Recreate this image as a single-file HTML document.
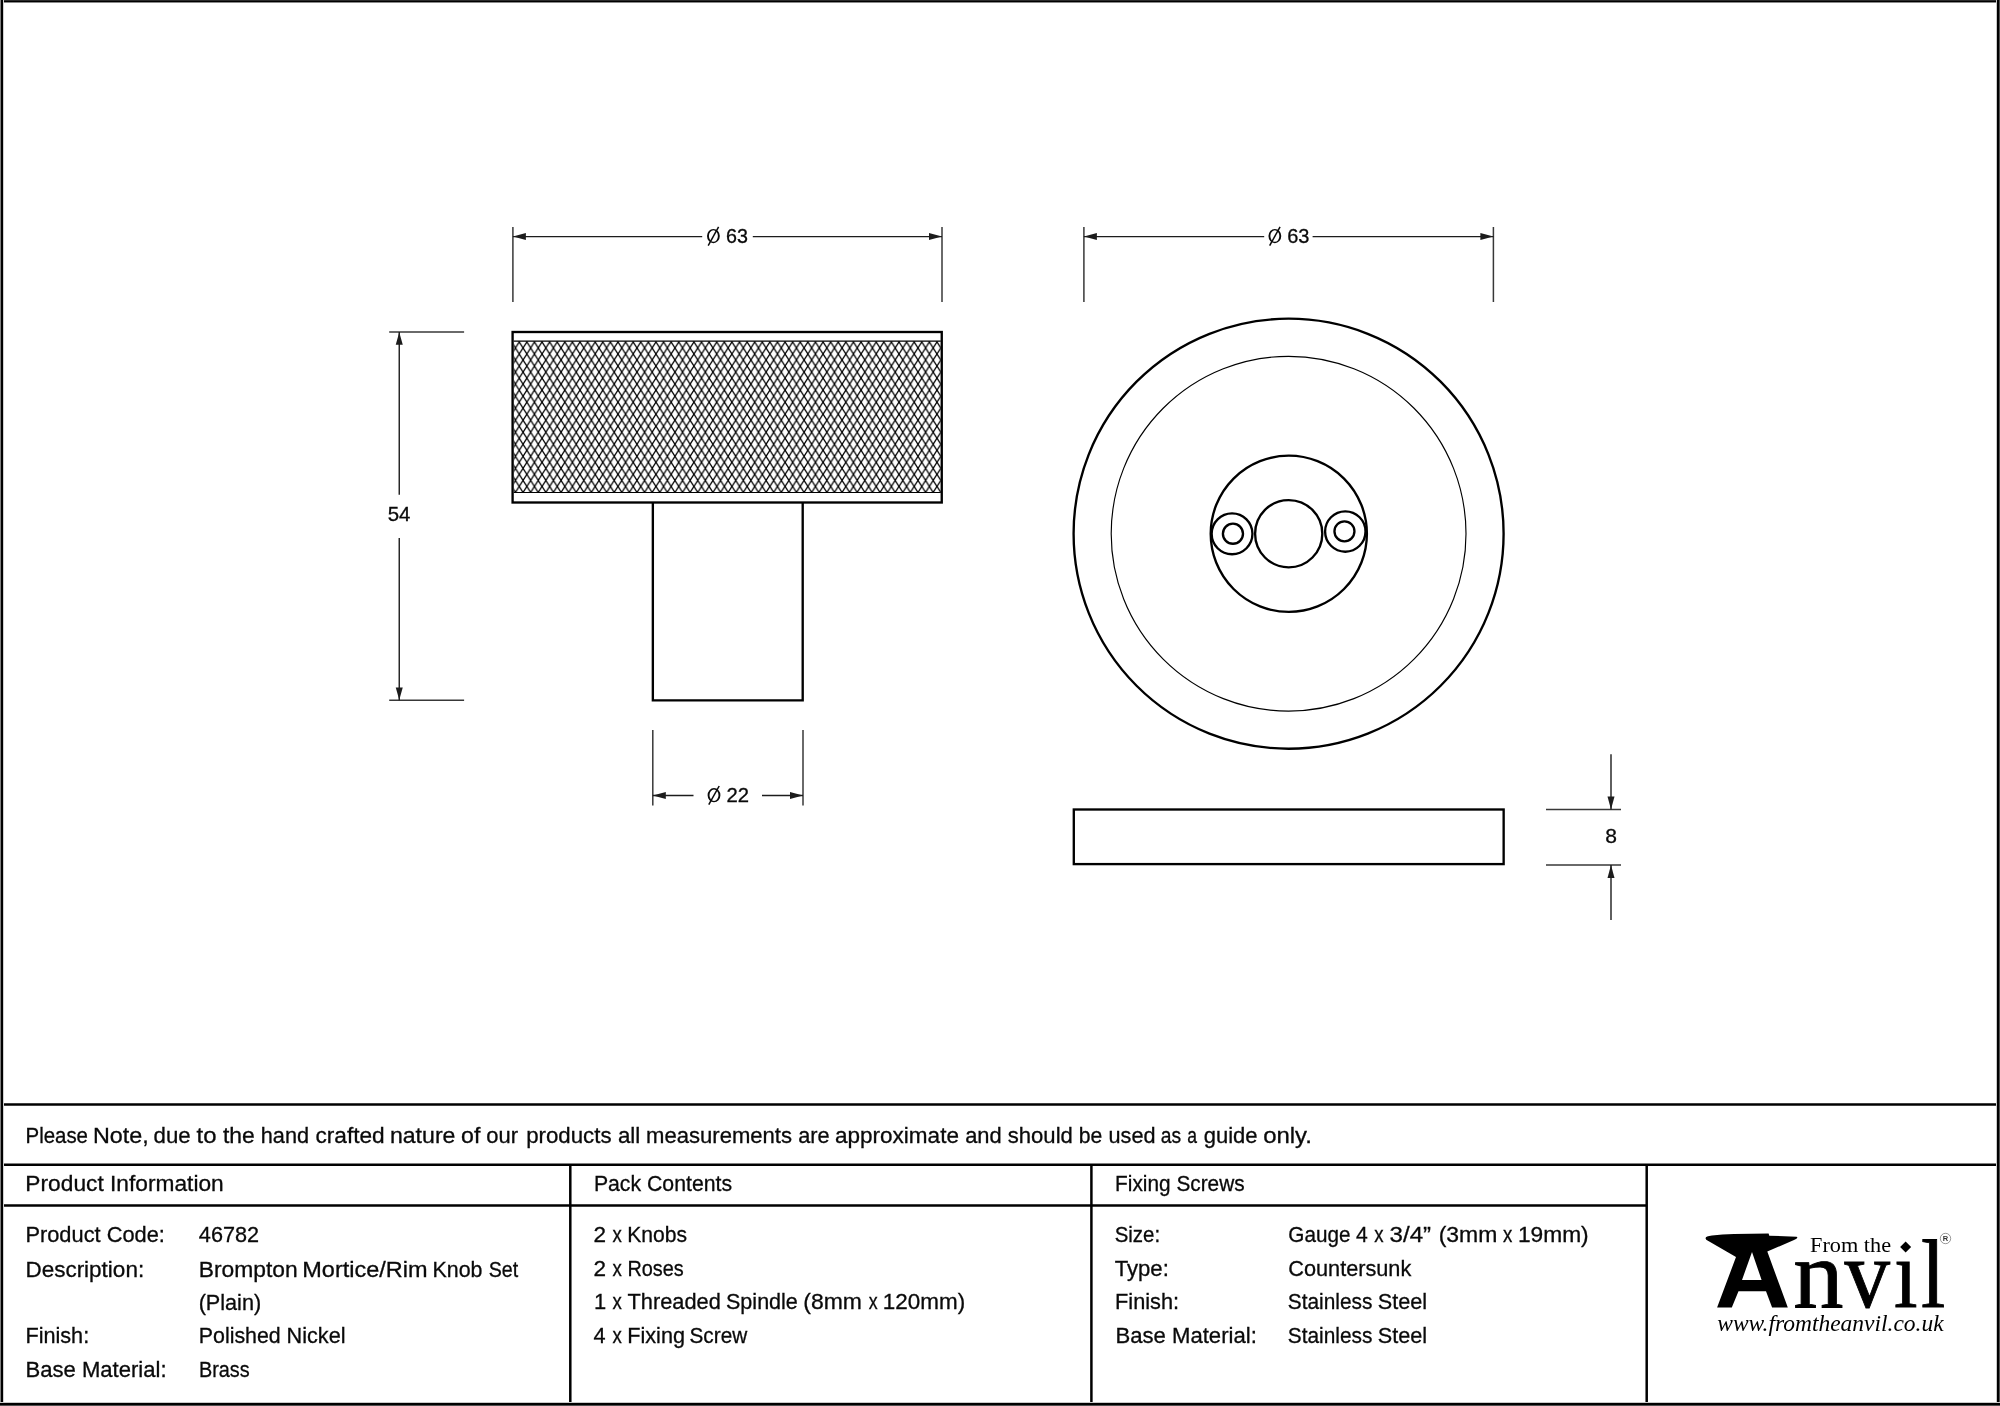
<!DOCTYPE html>
<html lang="en"><head><meta charset="utf-8"><title>Brompton Mortice/Rim Knob Set 46782</title>
<style>
html,body{margin:0;padding:0;background:#fff;width:2000px;height:1406px;overflow:hidden}
svg{display:block;position:absolute;left:0;top:0;will-change:transform}
text{white-space:pre}
.sf{font-family:"Liberation Serif",serif}
</style></head>
<body>
<svg width="2000" height="1406" viewBox="0 0 2000 1406">
<rect x="0" y="0" width="2000" height="1406" fill="#fff"/>
<defs><pattern id="kn" patternUnits="userSpaceOnUse" x="511.655" y="341.95" width="7.595" height="12.04"><path d="M0,0 L7.595,12.04 M7.595,0 L0,12.04 M-7.595,0 L0,12.04 M7.595,12.04 L15.19,0" stroke="#000" stroke-width="1.3" fill="none"/></pattern></defs>
<rect x="513.75" y="341.3" width="427.0" height="151.2" fill="url(#kn)"/>
<line x1="513.75" y1="341.1" x2="940.75" y2="341.1" stroke="#000" stroke-width="1.15"/>
<line x1="513.75" y1="492.5" x2="940.75" y2="492.5" stroke="#000" stroke-width="1.15"/>
<rect x="512.6" y="332.0" width="429.15" height="170.50" fill="none" stroke="#000" stroke-width="2.35"/>
<path d="M652.85,502.5 V700.35 H802.7 V502.5" fill="none" stroke="#000" stroke-width="2.35"/>
<line x1="512.9" y1="227" x2="512.9" y2="302" stroke="#383838" stroke-width="1.5"/>
<line x1="942.0" y1="227" x2="942.0" y2="302" stroke="#383838" stroke-width="1.5"/>
<line x1="512.9" y1="236.6" x2="702.2" y2="236.6" stroke="#1c1c1c" stroke-width="1.4"/>
<line x1="752.8" y1="236.6" x2="942.0" y2="236.6" stroke="#1c1c1c" stroke-width="1.4"/>
<polygon points="512.90,236.60 525.90,233.10 525.90,240.10" fill="#1c1c1c"/>
<polygon points="942.00,236.60 929.00,233.10 929.00,240.10" fill="#1c1c1c"/>
<path d="M707.00,236.10 A6.40,7.10 0 1 0 719.80,236.10 A6.40,7.10 0 1 0 707.00,236.10 Z M708.90,236.10 A4.50,5.75 0 1 0 717.90,236.10 A4.50,5.75 0 1 0 708.90,236.10 Z" fill="#0a0a0a" fill-rule="evenodd"/><line x1="708.20" y1="245.60" x2="718.60" y2="226.90" stroke="#0a0a0a" stroke-width="1.5"/>
<line x1="389.2" y1="332.0" x2="464.1" y2="332.0" stroke="#383838" stroke-width="1.5"/>
<line x1="389.2" y1="700.3" x2="464.1" y2="700.3" stroke="#383838" stroke-width="1.5"/>
<line x1="399.25" y1="332.0" x2="399.25" y2="494.8" stroke="#1c1c1c" stroke-width="1.4"/>
<line x1="399.25" y1="538" x2="399.25" y2="700.3" stroke="#1c1c1c" stroke-width="1.4"/>
<polygon points="399.25,332.30 395.75,344.80 402.75,344.80" fill="#1c1c1c"/>
<polygon points="399.25,700.00 395.75,687.50 402.75,687.50" fill="#1c1c1c"/>
<line x1="652.8" y1="730" x2="652.8" y2="805.5" stroke="#383838" stroke-width="1.5"/>
<line x1="803.0" y1="730" x2="803.0" y2="805.5" stroke="#383838" stroke-width="1.5"/>
<line x1="652.8" y1="795.5" x2="693.5" y2="795.5" stroke="#1c1c1c" stroke-width="1.4"/>
<line x1="762" y1="795.5" x2="803.0" y2="795.5" stroke="#1c1c1c" stroke-width="1.4"/>
<polygon points="652.80,795.50 665.80,792.00 665.80,799.00" fill="#1c1c1c"/>
<polygon points="803.00,795.50 790.00,792.00 790.00,799.00" fill="#1c1c1c"/>
<path d="M707.60,795.20 A6.40,7.10 0 1 0 720.40,795.20 A6.40,7.10 0 1 0 707.60,795.20 Z M709.50,795.20 A4.50,5.75 0 1 0 718.50,795.20 A4.50,5.75 0 1 0 709.50,795.20 Z" fill="#0a0a0a" fill-rule="evenodd"/><line x1="708.80" y1="804.70" x2="719.20" y2="786.00" stroke="#0a0a0a" stroke-width="1.5"/>
<circle cx="1288.6" cy="533.7" r="215.0" fill="none" stroke="#000" stroke-width="2.35"/>
<circle cx="1288.6" cy="533.7" r="177.4" fill="none" stroke="#000" stroke-width="1.15"/>
<circle cx="1288.8" cy="533.8" r="78.1" fill="none" stroke="#000" stroke-width="2.35"/>
<circle cx="1288.7" cy="533.7" r="33.6" fill="none" stroke="#000" stroke-width="2.35"/>
<circle cx="1232.05" cy="533.85" r="20.4" fill="none" stroke="#000" stroke-width="2.35"/>
<circle cx="1232.95" cy="533.7" r="10.05" fill="none" stroke="#000" stroke-width="2.35"/>
<circle cx="1345.3" cy="531.5" r="20.2" fill="none" stroke="#000" stroke-width="2.35"/>
<circle cx="1344.45" cy="531.3" r="10.0" fill="none" stroke="#000" stroke-width="2.35"/>
<line x1="1083.9" y1="227" x2="1083.9" y2="302" stroke="#383838" stroke-width="1.5"/>
<line x1="1493.4" y1="227" x2="1493.4" y2="302" stroke="#383838" stroke-width="1.5"/>
<line x1="1083.9" y1="236.6" x2="1264.2" y2="236.6" stroke="#1c1c1c" stroke-width="1.4"/>
<line x1="1312.6" y1="236.6" x2="1493.4" y2="236.6" stroke="#1c1c1c" stroke-width="1.4"/>
<polygon points="1083.90,236.60 1096.90,233.10 1096.90,240.10" fill="#1c1c1c"/>
<polygon points="1493.40,236.60 1480.40,233.10 1480.40,240.10" fill="#1c1c1c"/>
<path d="M1268.45,236.10 A6.40,7.10 0 1 0 1281.25,236.10 A6.40,7.10 0 1 0 1268.45,236.10 Z M1270.35,236.10 A4.50,5.75 0 1 0 1279.35,236.10 A4.50,5.75 0 1 0 1270.35,236.10 Z" fill="#0a0a0a" fill-rule="evenodd"/><line x1="1269.65" y1="245.60" x2="1280.05" y2="226.90" stroke="#0a0a0a" stroke-width="1.5"/>
<rect x="1073.8" y="809.5" width="429.85" height="54.60" fill="none" stroke="#000" stroke-width="2.35"/>
<line x1="1546" y1="809.4" x2="1621" y2="809.4" stroke="#383838" stroke-width="1.5"/>
<line x1="1546" y1="864.9" x2="1621" y2="864.9" stroke="#383838" stroke-width="1.5"/>
<line x1="1611" y1="754.2" x2="1611" y2="809.4" stroke="#1c1c1c" stroke-width="1.4"/>
<line x1="1611" y1="864.9" x2="1611" y2="920" stroke="#1c1c1c" stroke-width="1.4"/>
<polygon points="1611.00,809.40 1607.50,796.40 1614.50,796.40" fill="#1c1c1c"/>
<polygon points="1611.00,864.90 1607.50,877.90 1614.50,877.90" fill="#1c1c1c"/>
<line x1="0" y1="1104.5" x2="2000" y2="1104.5" stroke="#000" stroke-width="2.5"/>
<line x1="0" y1="1164.85" x2="2000" y2="1164.85" stroke="#000" stroke-width="2.5"/>
<line x1="0" y1="1205.5" x2="1646.7" y2="1205.5" stroke="#000" stroke-width="2.5"/>
<line x1="570.3" y1="1164.85" x2="570.3" y2="1406" stroke="#000" stroke-width="2.5"/>
<line x1="1091.4" y1="1164.85" x2="1091.4" y2="1406" stroke="#000" stroke-width="2.5"/>
<line x1="1646.7" y1="1164.85" x2="1646.7" y2="1406" stroke="#000" stroke-width="2.5"/>
<g id="logo" fill="#000">
<path d="M1705.6,1238.4 Q1705.2,1236.4 1712,1235.6 Q1722,1234.3 1734,1234 L1768.6,1233.6 L1769.3,1235.7 L1796.4,1236.7 Q1797.8,1236.9 1797.0,1238.3 Q1796.5,1239.0 1794,1240.0 L1767.3,1251.6 L1787.8,1307.6 L1772.1,1307.6 L1766,1291.2 L1738.5,1291.2 L1731.8,1307.6 L1717.1,1307.6 L1736,1257 L1707.5,1240.6 Q1705.9,1239.6 1705.6,1238.4 Z M1752,1251.9 L1761.6,1280 L1742,1280 Z" fill-rule="evenodd"/>
<polygon points="1905.6,1241.5 1911.1,1247.0 1905.6,1252.5 1900.1,1247.0"/>
<circle cx="1945.5" cy="1238.5" r="5.2" fill="none" stroke="#555" stroke-width="0.6"/>
<text x="1945.5" y="1241.3" text-anchor="middle" font-family="Liberation Sans" font-weight="bold" font-size="7.5" fill="#333">R</text>
</g>
<rect x="0" y="0" width="2000" height="1" fill="#2a2a2a"/><rect x="0" y="1" width="2000" height="1" fill="#000"/><rect x="0" y="2" width="2000" height="1" fill="#8a8a8a"/>
<rect x="0" y="0" width="1" height="1406" fill="#808080"/><rect x="1" y="0" width="2" height="1406" fill="#000"/><rect x="3" y="0" width="1" height="1406" fill="#d0d0d0"/>
<rect x="1997" y="0" width="2" height="1406" fill="#000"/><rect x="1999" y="0" width="1" height="1406" fill="#505050"/><rect x="1996" y="0" width="1" height="1406" fill="#c8c8c8"/>
<rect x="0" y="1403" width="2000" height="2" fill="#000"/><rect x="0" y="1405" width="2000" height="1" fill="#505050"/><rect x="0" y="1402" width="2000" height="1" fill="#c8c8c8"/>
<g id="labels">
<text transform="translate(25.55,1142.60) scale(0.9412,1)" font-family="Liberation Sans" font-size="21.7" fill="#0a0a0a" stroke="#0a0a0a" stroke-width="0.3">Please</text>
<text transform="translate(92.92,1142.60) scale(1.0756,1)" font-family="Liberation Sans" font-size="21.7" fill="#0a0a0a" stroke="#0a0a0a" stroke-width="0.3">Note,</text>
<text transform="translate(153.53,1142.60) scale(1.0261,1)" font-family="Liberation Sans" font-size="21.7" fill="#0a0a0a" stroke="#0a0a0a" stroke-width="0.3">due</text>
<text transform="translate(196.53,1142.60) scale(1.1000,1)" font-family="Liberation Sans" font-size="21.7" fill="#0a0a0a" stroke="#0a0a0a" stroke-width="0.3">to</text>
<text transform="translate(222.94,1142.60) scale(1.0552,1)" font-family="Liberation Sans" font-size="21.7" fill="#0a0a0a" stroke="#0a0a0a" stroke-width="0.3">the</text>
<text transform="translate(260.80,1142.60) scale(1.0000,1)" font-family="Liberation Sans" font-size="21.7" fill="#0a0a0a" stroke="#0a0a0a" stroke-width="0.3">hand</text>
<text transform="translate(315.42,1142.60) scale(1.0444,1)" font-family="Liberation Sans" font-size="21.7" fill="#0a0a0a" stroke="#0a0a0a" stroke-width="0.3">crafted</text>
<text transform="translate(389.90,1142.60) scale(1.0661,1)" font-family="Liberation Sans" font-size="21.7" fill="#0a0a0a" stroke="#0a0a0a" stroke-width="0.3">nature</text>
<text transform="translate(461.00,1142.60) scale(1.0686,1)" font-family="Liberation Sans" font-size="21.7" fill="#0a0a0a" stroke="#0a0a0a" stroke-width="0.3">of</text>
<text transform="translate(486.24,1142.60) scale(1.0116,1)" font-family="Liberation Sans" font-size="21.7" fill="#0a0a0a" stroke="#0a0a0a" stroke-width="0.3">our</text>
<text transform="translate(526.22,1142.60) scale(1.0252,1)" font-family="Liberation Sans" font-size="21.7" fill="#0a0a0a" stroke="#0a0a0a" stroke-width="0.3">products</text>
<text transform="translate(617.93,1142.60) scale(1.0308,1)" font-family="Liberation Sans" font-size="21.7" fill="#0a0a0a" stroke="#0a0a0a" stroke-width="0.3">all</text>
<text transform="translate(646.07,1142.60) scale(1.0173,1)" font-family="Liberation Sans" font-size="21.7" fill="#0a0a0a" stroke="#0a0a0a" stroke-width="0.3">measurements</text>
<text transform="translate(798.15,1142.60) scale(1.0017,1)" font-family="Liberation Sans" font-size="21.7" fill="#0a0a0a" stroke="#0a0a0a" stroke-width="0.3">are</text>
<text transform="translate(835.02,1142.60) scale(1.0378,1)" font-family="Liberation Sans" font-size="21.7" fill="#0a0a0a" stroke="#0a0a0a" stroke-width="0.3">approximate</text>
<text transform="translate(965.14,1142.60) scale(1.0088,1)" font-family="Liberation Sans" font-size="21.7" fill="#0a0a0a" stroke="#0a0a0a" stroke-width="0.3">and</text>
<text transform="translate(1007.79,1142.60) scale(1.0177,1)" font-family="Liberation Sans" font-size="21.7" fill="#0a0a0a" stroke="#0a0a0a" stroke-width="0.3">should</text>
<text transform="translate(1078.78,1142.60) scale(0.9773,1)" font-family="Liberation Sans" font-size="21.7" fill="#0a0a0a" stroke="#0a0a0a" stroke-width="0.3">be</text>
<text transform="translate(1108.55,1142.60) scale(0.9978,1)" font-family="Liberation Sans" font-size="21.7" fill="#0a0a0a" stroke="#0a0a0a" stroke-width="0.3">used</text>
<text transform="translate(1160.83,1142.60) scale(0.8884,1)" font-family="Liberation Sans" font-size="21.7" fill="#0a0a0a" stroke="#0a0a0a" stroke-width="0.3">as</text>
<text transform="translate(1187.29,1142.60) scale(0.8087,1)" font-family="Liberation Sans" font-size="21.7" fill="#0a0a0a" stroke="#0a0a0a" stroke-width="0.3">a</text>
<text transform="translate(1203.74,1142.60) scale(1.0136,1)" font-family="Liberation Sans" font-size="21.7" fill="#0a0a0a" stroke="#0a0a0a" stroke-width="0.3">guide</text>
<text transform="translate(1263.17,1142.60) scale(1.1036,1)" font-family="Liberation Sans" font-size="21.7" fill="#0a0a0a" stroke="#0a0a0a" stroke-width="0.3">only.</text>
<text transform="translate(25.37,1190.90) scale(1.0475,1)" font-family="Liberation Sans" font-size="21.7" fill="#0a0a0a" stroke="#0a0a0a" stroke-width="0.3">Product Information</text>
<text transform="translate(593.89,1190.90) scale(0.9791,1)" font-family="Liberation Sans" font-size="21.7" fill="#0a0a0a" stroke="#0a0a0a" stroke-width="0.3">Pack Contents</text>
<text transform="translate(1115.12,1190.60) scale(0.9592,1)" font-family="Liberation Sans" font-size="21.7" fill="#0a0a0a" stroke="#0a0a0a" stroke-width="0.3">Fixing Screws</text>
<text transform="translate(25.44,1242.30) scale(1.0052,1)" font-family="Liberation Sans" font-size="21.7" fill="#0a0a0a" stroke="#0a0a0a" stroke-width="0.3">Product Code:</text>
<text transform="translate(198.85,1242.30) scale(0.9983,1)" font-family="Liberation Sans" font-size="21.7" fill="#0a0a0a" stroke="#0a0a0a" stroke-width="0.3">46782</text>
<text transform="translate(25.39,1276.50) scale(1.0369,1)" font-family="Liberation Sans" font-size="21.7" fill="#0a0a0a" stroke="#0a0a0a" stroke-width="0.3">Description:</text>
<text transform="translate(198.66,1276.50) scale(1.0527,1)" font-family="Liberation Sans" font-size="21.7" fill="#0a0a0a" stroke="#0a0a0a" stroke-width="0.3">Brompton</text>
<text transform="translate(302.30,1276.50) scale(1.0829,1)" font-family="Liberation Sans" font-size="21.7" fill="#0a0a0a" stroke="#0a0a0a" stroke-width="0.3">Mortice/Rim</text>
<text transform="translate(432.58,1276.50) scale(0.9854,1)" font-family="Liberation Sans" font-size="21.7" fill="#0a0a0a" stroke="#0a0a0a" stroke-width="0.3">Knob</text>
<text transform="translate(488.70,1276.50) scale(0.9048,1)" font-family="Liberation Sans" font-size="21.7" fill="#0a0a0a" stroke="#0a0a0a" stroke-width="0.3">Set</text>
<text transform="translate(198.65,1309.90) scale(0.9975,1)" font-family="Liberation Sans" font-size="21.7" fill="#0a0a0a" stroke="#0a0a0a" stroke-width="0.3">(Plain)</text>
<text transform="translate(25.45,1343.30) scale(0.9975,1)" font-family="Liberation Sans" font-size="21.7" fill="#0a0a0a" stroke="#0a0a0a" stroke-width="0.3">Finish:</text>
<text transform="translate(198.78,1343.30) scale(0.9850,1)" font-family="Liberation Sans" font-size="21.7" fill="#0a0a0a" stroke="#0a0a0a" stroke-width="0.3">Polished</text>
<text transform="translate(286.55,1343.30) scale(0.9982,1)" font-family="Liberation Sans" font-size="21.7" fill="#0a0a0a" stroke="#0a0a0a" stroke-width="0.3">Nickel</text>
<text transform="translate(25.42,1377.40) scale(1.0185,1)" font-family="Liberation Sans" font-size="21.7" fill="#0a0a0a" stroke="#0a0a0a" stroke-width="0.3">Base Material:</text>
<text transform="translate(198.90,1377.40) scale(0.9151,1)" font-family="Liberation Sans" font-size="21.7" fill="#0a0a0a" stroke="#0a0a0a" stroke-width="0.3">Brass</text>
<text transform="translate(593.56,1241.70) scale(1.0400,1)" font-family="Liberation Sans" font-size="21.7" fill="#0a0a0a" stroke="#0a0a0a" stroke-width="0.3">2</text>
<text transform="translate(612.39,1241.70) scale(0.8585,1)" font-family="Liberation Sans" font-size="21.7" fill="#0a0a0a" stroke="#0a0a0a" stroke-width="0.3">x</text>
<text transform="translate(627.30,1241.70) scale(0.9729,1)" font-family="Liberation Sans" font-size="21.7" fill="#0a0a0a" stroke="#0a0a0a" stroke-width="0.3">Knobs</text>
<text transform="translate(593.56,1275.60) scale(1.0400,1)" font-family="Liberation Sans" font-size="21.7" fill="#0a0a0a" stroke="#0a0a0a" stroke-width="0.3">2</text>
<text transform="translate(612.39,1275.60) scale(0.8585,1)" font-family="Liberation Sans" font-size="21.7" fill="#0a0a0a" stroke="#0a0a0a" stroke-width="0.3">x</text>
<text transform="translate(627.40,1275.60) scale(0.9153,1)" font-family="Liberation Sans" font-size="21.7" fill="#0a0a0a" stroke="#0a0a0a" stroke-width="0.3">Roses</text>
<text transform="translate(593.88,1309.30) scale(1.0105,1)" font-family="Liberation Sans" font-size="21.7" fill="#0a0a0a" stroke="#0a0a0a" stroke-width="0.3">1</text>
<text transform="translate(612.39,1309.30) scale(0.8585,1)" font-family="Liberation Sans" font-size="21.7" fill="#0a0a0a" stroke="#0a0a0a" stroke-width="0.3">x</text>
<text transform="translate(627.50,1309.30) scale(1.0044,1)" font-family="Liberation Sans" font-size="21.7" fill="#0a0a0a" stroke="#0a0a0a" stroke-width="0.3">Threaded</text>
<text transform="translate(726.01,1309.30) scale(0.9929,1)" font-family="Liberation Sans" font-size="21.7" fill="#0a0a0a" stroke="#0a0a0a" stroke-width="0.3">Spindle</text>
<text transform="translate(803.28,1309.30) scale(1.0566,1)" font-family="Liberation Sans" font-size="21.7" fill="#0a0a0a" stroke="#0a0a0a" stroke-width="0.3">(8mm</text>
<text transform="translate(868.80,1309.30) scale(0.8195,1)" font-family="Liberation Sans" font-size="21.7" fill="#0a0a0a" stroke="#0a0a0a" stroke-width="0.3">x</text>
<text transform="translate(882.85,1309.30) scale(1.0345,1)" font-family="Liberation Sans" font-size="21.7" fill="#0a0a0a" stroke="#0a0a0a" stroke-width="0.3">120mm)</text>
<text transform="translate(593.50,1342.90) scale(1.0000,1)" font-family="Liberation Sans" font-size="21.7" fill="#0a0a0a" stroke="#0a0a0a" stroke-width="0.3">4</text>
<text transform="translate(612.39,1342.90) scale(0.8585,1)" font-family="Liberation Sans" font-size="21.7" fill="#0a0a0a" stroke="#0a0a0a" stroke-width="0.3">x</text>
<text transform="translate(627.25,1342.90) scale(0.9973,1)" font-family="Liberation Sans" font-size="21.7" fill="#0a0a0a" stroke="#0a0a0a" stroke-width="0.3">Fixing</text>
<text transform="translate(689.44,1342.90) scale(0.9586,1)" font-family="Liberation Sans" font-size="21.7" fill="#0a0a0a" stroke="#0a0a0a" stroke-width="0.3">Screw</text>
<text transform="translate(1114.66,1241.70) scale(0.9436,1)" font-family="Liberation Sans" font-size="21.7" fill="#0a0a0a" stroke="#0a0a0a" stroke-width="0.3">Size:</text>
<text transform="translate(1288.35,1241.70) scale(0.9534,1)" font-family="Liberation Sans" font-size="21.7" fill="#0a0a0a" stroke="#0a0a0a" stroke-width="0.3">Gauge</text>
<text transform="translate(1356.01,1241.70) scale(0.9727,1)" font-family="Liberation Sans" font-size="21.7" fill="#0a0a0a" stroke="#0a0a0a" stroke-width="0.3">4</text>
<text transform="translate(1374.19,1241.70) scale(0.8585,1)" font-family="Liberation Sans" font-size="21.7" fill="#0a0a0a" stroke="#0a0a0a" stroke-width="0.3">x</text>
<text transform="translate(1389.57,1241.70) scale(1.1111,1)" font-family="Liberation Sans" font-size="21.7" fill="#0a0a0a" stroke="#0a0a0a" stroke-width="0.3">3/4”</text>
<text transform="translate(1438.68,1241.70) scale(1.0566,1)" font-family="Liberation Sans" font-size="21.7" fill="#0a0a0a" stroke="#0a0a0a" stroke-width="0.3">(3mm</text>
<text transform="translate(1502.99,1241.70) scale(0.8585,1)" font-family="Liberation Sans" font-size="21.7" fill="#0a0a0a" stroke="#0a0a0a" stroke-width="0.3">x</text>
<text transform="translate(1517.93,1241.70) scale(1.0486,1)" font-family="Liberation Sans" font-size="21.7" fill="#0a0a0a" stroke="#0a0a0a" stroke-width="0.3">19mm)</text>
<text transform="translate(1114.69,1275.60) scale(1.0207,1)" font-family="Liberation Sans" font-size="21.7" fill="#0a0a0a" stroke="#0a0a0a" stroke-width="0.3">Type:</text>
<text transform="translate(1288.30,1275.60) scale(1.0000,1)" font-family="Liberation Sans" font-size="21.7" fill="#0a0a0a" stroke="#0a0a0a" stroke-width="0.3">Countersunk</text>
<text transform="translate(1115.05,1309.30) scale(1.0025,1)" font-family="Liberation Sans" font-size="21.7" fill="#0a0a0a" stroke="#0a0a0a" stroke-width="0.3">Finish:</text>
<text transform="translate(1287.84,1309.30) scale(0.9612,1)" font-family="Liberation Sans" font-size="21.7" fill="#0a0a0a" stroke="#0a0a0a" stroke-width="0.3">Stainless</text>
<text transform="translate(1377.70,1309.30) scale(0.9979,1)" font-family="Liberation Sans" font-size="21.7" fill="#0a0a0a" stroke="#0a0a0a" stroke-width="0.3">Steel</text>
<text transform="translate(1115.41,1342.90) scale(1.0200,1)" font-family="Liberation Sans" font-size="21.7" fill="#0a0a0a" stroke="#0a0a0a" stroke-width="0.3">Base Material:</text>
<text transform="translate(1287.84,1342.90) scale(0.9612,1)" font-family="Liberation Sans" font-size="21.7" fill="#0a0a0a" stroke="#0a0a0a" stroke-width="0.3">Stainless</text>
<text transform="translate(1377.70,1342.90) scale(0.9979,1)" font-family="Liberation Sans" font-size="21.7" fill="#0a0a0a" stroke="#0a0a0a" stroke-width="0.3">Steel</text>
<text transform="translate(726.01,243.40) scale(0.9854,1)" font-family="Liberation Sans" font-size="20" fill="#0a0a0a" stroke="#0a0a0a" stroke-width="0.3">63</text>
<text transform="translate(1287.20,243.40) scale(1.0000,1)" font-family="Liberation Sans" font-size="20" fill="#0a0a0a" stroke="#0a0a0a" stroke-width="0.3">63</text>
<text transform="translate(726.49,802.00) scale(1.0123,1)" font-family="Liberation Sans" font-size="20" fill="#0a0a0a" stroke="#0a0a0a" stroke-width="0.3">22</text>
<text transform="translate(387.73,521.30) scale(1.0238,1)" font-family="Liberation Sans" font-size="20" fill="#0a0a0a" stroke="#0a0a0a" stroke-width="0.3">54</text>
<text transform="translate(1605.31,842.80) scale(1.0526,1)" font-family="Liberation Sans" font-size="20" fill="#0a0a0a" stroke="#0a0a0a" stroke-width="0.3">8</text>
<text transform="translate(1810.08,1251.50) scale(1.0351,1)" font-family="Liberation Serif" class="sf" font-size="21.5" fill="#000">From the</text>
<text transform="translate(1793.23,1306.60) scale(1.0365,1)" font-family="Liberation Serif" class="sf" font-size="97" fill="#000" stroke="#000" stroke-width="0.9">n</text>
<text transform="translate(1844.40,1306.60) scale(0.9381,1)" font-family="Liberation Serif" class="sf" font-size="97" fill="#000" stroke="#000" stroke-width="0.9">v</text>
<text transform="translate(1893.95,1306.60) scale(0.8731,1)" font-family="Liberation Serif" class="sf" font-size="97" fill="#000" stroke="#000" stroke-width="0.9">ı</text>
<text transform="translate(1921.12,1306.60) scale(0.9032,1)" font-family="Liberation Serif" class="sf" font-size="97" fill="#000" stroke="#000" stroke-width="0.9">l</text>
<text transform="translate(1717.30,1330.60) scale(0.9998,1)" font-family="Liberation Serif" class="sf" font-size="23.5" font-style="italic" fill="#000">www.fromtheanvil.co.uk</text>
</g>
</svg>
</body></html>
